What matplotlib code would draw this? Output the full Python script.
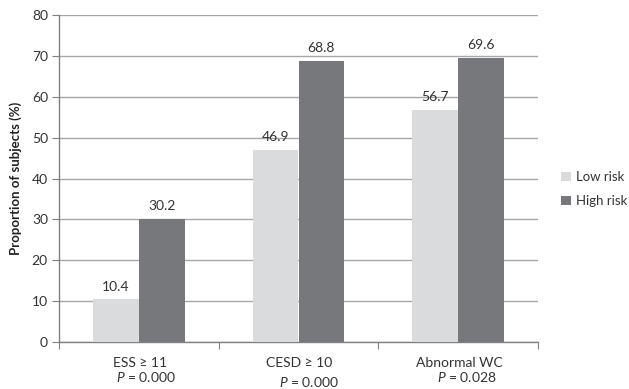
import matplotlib
matplotlib.use("Agg")
import matplotlib.pyplot as plt
import numpy as np

categories = ["ESS \u2265 11", "CESD \u2265 10", "Abnormal WC"]
p_labels = ["$P$ = 0.000", "$P$ = 0.000", "$P$ = 0.028"]
low_risk = [10.4, 46.9, 56.7]
high_risk = [30.2, 68.8, 69.6]
series_names = ["Low risk", "High risk"]

plt.rcParams['font.family'] = ['Lato', 'DejaVu Sans']
plt.rcParams['mathtext.fontset'] = 'custom'
plt.rcParams['mathtext.it'] = 'Lato:italic'
plt.rcParams['mathtext.rm'] = 'Lato'

fig = plt.figure(figsize=(6.29, 3.89), dpi=100)
ax = fig.add_axes([59/629, 1-342/389, (538-59)/629, (342-15)/389])

x = np.arange(len(categories))
w = 0.287
c_low = "#dadbdc"
c_high = "#77787b"
b1 = ax.bar(x - w/2, low_risk, w, color=c_low, label=series_names[0], zorder=3)
b2 = ax.bar(x + w/2, high_risk, w, color=c_high, label=series_names[1], zorder=3)

txtc = "#333333"
fs = 10
for rects, vals in ((b1, low_risk), (b2, high_risk)):
    for r, v in zip(rects, vals):
        ax.annotate(f"{v:.1f}", (r.get_x() + r.get_width()/2, v),
                    xytext=(0, 5), textcoords="offset points",
                    ha="center", va="bottom", fontsize=fs, color=txtc)

ax.set_xlim(-0.5, 2.5)
ax.set_ylim(0, 80)
ax.set_yticks(np.arange(0, 81, 10))
ax.yaxis.grid(True, color="#a6a6a6", linewidth=1, zorder=0)
ax.set_axisbelow(True)

ax.set_xticks([-0.5, 0.5, 1.5, 2.5])
ax.set_xticklabels([])
ax.tick_params(axis="x", length=5, color="#808080", direction="out")
ax.tick_params(axis="y", length=5, color="#808080", direction="out",
               labelsize=fs, labelcolor=txtc, pad=3)

for s in ["top", "right"]:
    ax.spines[s].set_visible(False)
for s in ["left", "bottom"]:
    ax.spines[s].set_color("#808080")
    ax.spines[s].set_linewidth(1)

tr = ax.get_xaxis_transform()
p_dx = [0.045, 0.063, 0.056]
p_y = [-0.107, -0.122, -0.107]
for i, (c, p) in enumerate(zip(categories, p_labels)):
    ax.text(i + 0.005, -0.064, c, transform=tr, ha="center", va="center",
            fontsize=fs, color=txtc)
    ax.text(i + p_dx[i], p_y[i], p, transform=tr, ha="center", va="center",
            fontsize=fs, color=txtc)

ax.set_ylabel("Proportion of subjects (%)", fontsize=9.5, fontweight="bold",
              color="#222222", labelpad=7)

fig.legend(handles=[b1, b2], labels=series_names, loc="center left",
           bbox_to_anchor=(561/629, 1-189/389), frameon=False, fontsize=9.5,
           borderaxespad=0, borderpad=0,
           handlelength=0.75, handleheight=0.75, handletextpad=0.4,
           labelspacing=0.9, labelcolor=txtc)

fig.savefig("out.png", dpi=100)
